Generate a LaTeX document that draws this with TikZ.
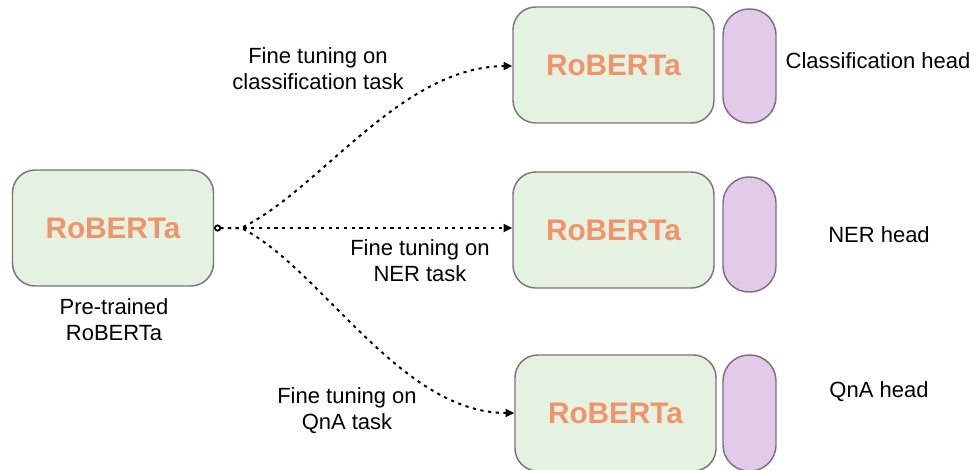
\documentclass[tikz,border=0pt]{standalone}
\usepackage{fontspec}
\setmainfont{Liberation Sans}
\usetikzlibrary{arrows.meta}
\definecolor{boxfill}{HTML}{E6F2E1}
\definecolor{boxdraw}{HTML}{777777}
\definecolor{headfill}{HTML}{E3CAE8}
\definecolor{headdraw}{HTML}{7C6F80}
\definecolor{rtext}{HTML}{F0946C}
\tikzset{
  model/.style={draw=boxdraw, fill=boxfill, line width=1.1pt, rounded corners=17pt,
    minimum width={201*0.75pt}, minimum height={116*0.75pt}, inner sep=0pt,
    text=rtext, font=\bfseries\fontsize{22.3}{24}\selectfont},
  headbox/.style={draw=headdraw, fill=headfill, line width=1.1pt, rounded corners=19.5pt,
    minimum width={53*0.75pt}, inner sep=0pt},
  lbl/.style={font=\fontsize{16.5}{19.5}\selectfont, align=center, inner sep=0pt},
  conn/.style={line width=1.5pt, dash pattern=on 2.4pt off 3.4pt,
    {Circle[open,length=5pt,width=5pt,line width=1pt]}-{Triangle[length=6.5pt,width=6pt]}}
}
\begin{document}
\begin{tikzpicture}[x=0.75pt,y=-0.75pt]
\useasboundingbox (0,0) rectangle (977,469);
% pre-trained
\node[model] (L) at (113,228) {RoBERTa};
\node[lbl] (Lt) at (114,320) {Pre-trained\\RoBERTa};
% fine-tuned models
\node[model] (B1) at (613.5,65) {RoBERTa};
\node[model] (B2) at (613.5,230) {RoBERTa};
\node[model] (B3) at (615.5,413) {RoBERTa};
% heads
\node[headbox, minimum height={114*0.75pt}] (H1) at (749.5,66) {};
\node[headbox, minimum height={115*0.75pt}] (H2) at (749.5,234.5) {};
\node[headbox, minimum height={116*0.75pt}] (H3) at (749.5,413) {};
% head labels
\node[lbl] (T1) at (878,61) {Classification head};
\node[lbl] (T2) at (879,235) {NER head};
\node[lbl] (T3) at (879,392) {QnA head};
% connectors
\draw[conn] (L.east) -- ++(27,0) .. controls (320,190) and (400,67) .. (B1.west |- 0,66);
\draw[conn] (L.east) -- (L.east -| B2.west);
\draw[conn] (L.east) -- ++(27,0) .. controls (320,267) and (400,413) .. (B3.west);
% connector labels
\node[lbl] (E1) at (318,69) {Fine tuning on\\classification task};
\node[lbl] (E2) at (420,261) {Fine tuning on\\NER task};
\node[lbl] (E3) at (347,411) {Fine tuning on\\QnA task};
\end{tikzpicture}
\end{document}
